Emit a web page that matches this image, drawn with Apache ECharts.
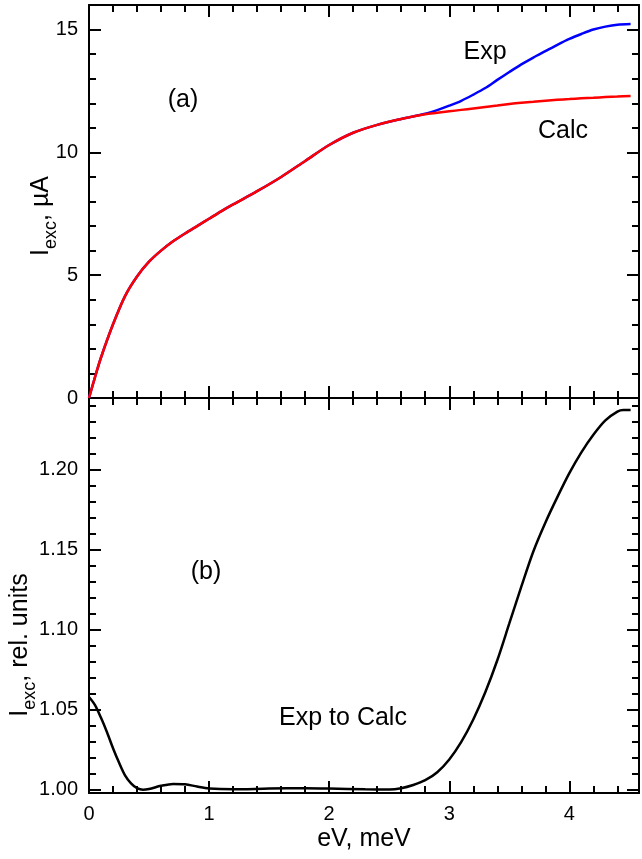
<!DOCTYPE html>
<html><head><meta charset="utf-8">
<script src="https://cdn.jsdelivr.net/npm/echarts@6/dist/echarts.min.js"></script>
<style>html,body{margin:0;padding:0;background:#fff}#c{width:642px;height:859px}</style>
</head><body><div id="c"></div>
<script>
// ---- data ----
const eV = [0, 0.05, 0.1, 0.2, 0.3, 0.4, 0.5, 0.6, 0.7, 0.8, 0.9, 1.0, 1.1, 1.2, 1.4, 1.6, 1.8, 2.0, 2.2, 2.4, 2.6, 2.8, 2.9, 3.0, 3.1, 3.2, 3.3, 3.4, 3.5, 3.6, 3.7, 3.8, 3.9, 4.0, 4.1, 4.2, 4.3, 4.4, 4.51];
const expCurrent = [0, 0.85, 1.65, 3.0, 4.15, 4.95, 5.55, 6.0, 6.38, 6.7, 7.0, 7.3, 7.6, 7.88, 8.42, 9.0, 9.65, 10.3, 10.8, 11.12, 11.36, 11.57, 11.72, 11.9, 12.1, 12.35, 12.62, 12.95, 13.27, 13.58, 13.86, 14.12, 14.38, 14.62, 14.82, 15.0, 15.12, 15.2, 15.23];
const calcCurrent = [0, 0.85, 1.65, 3.0, 4.15, 4.95, 5.55, 6.0, 6.38, 6.7, 7.0, 7.3, 7.6, 7.88, 8.42, 9.0, 9.65, 10.3, 10.8, 11.12, 11.36, 11.55, 11.61, 11.67, 11.73, 11.79, 11.85, 11.91, 11.97, 12.02, 12.06, 12.1, 12.14, 12.17, 12.2, 12.22, 12.25, 12.27, 12.3];
const ratioEV = [0, 0.05, 0.1, 0.15, 0.2, 0.25, 0.3, 0.35, 0.4, 0.45, 0.5, 0.6, 0.7, 0.8, 0.9, 1.0, 1.2, 1.5, 1.8, 2.0, 2.3, 2.5, 2.6, 2.7, 2.8, 2.9, 3.0, 3.1, 3.2, 3.3, 3.4, 3.5, 3.6, 3.7, 3.8, 3.9, 4.0, 4.1, 4.2, 4.3, 4.4, 4.45, 4.51];
const ratioValues = [1.058, 1.053, 1.045, 1.036, 1.026, 1.017, 1.009, 1.004, 1.001, 1.0, 1.0005, 1.0025, 1.0037, 1.0035, 1.002, 1.0008, 1.0003, 1.0008, 1.001, 1.0008, 1.0003, 1.0002, 1.001, 1.003, 1.006, 1.011, 1.019, 1.03, 1.044, 1.061, 1.081, 1.104, 1.127, 1.149, 1.167, 1.183, 1.198, 1.211, 1.222, 1.231, 1.2365, 1.2375, 1.2375];

const xMajorTicks = [0, 1, 2, 3, 4];
const xMinorTicks = [0.2, 0.4, 0.6, 0.8, 1.2, 1.4, 1.6, 1.8, 2.2, 2.4, 2.6, 2.8, 3.2, 3.4, 3.6, 3.8, 4.2, 4.4];
const yTopMajorTicks = [0, 5, 10, 15];
const yTopMinorTicks = [1, 2, 3, 4, 6, 7, 8, 9, 11, 12, 13, 14, 16];
const yBotMajorTicks = [1.00, 1.05, 1.10, 1.15, 1.20];
const yBotMinorTicks = [1.01, 1.02, 1.03, 1.04, 1.06, 1.07, 1.08, 1.09, 1.11, 1.12, 1.13, 1.14, 1.16, 1.17, 1.18, 1.19, 1.21, 1.22, 1.23, 1.24];

const FONT = '"Liberation Sans", Arial, sans-serif';
const X_MIN = 0, X_MAX = 4.58;
const YT_MIN = 0, YT_MAX = 16;
const YB_MIN = 0.998, YB_MAX = 1.245;

function mkAxis(opts) {
  const { grid, pos, min, max, ticks, len, line, labels, fmt, name } = opts;
  const a = {
    type: 'value', gridIndex: grid, position: pos, min: min, max: max,
    splitLine: { show: false },
    axisLine: { show: line, onZero: false, lineStyle: { color: '#000', width: 2 } },
    axisTick: { show: true, inside: true, length: len, customValues: ticks, lineStyle: { color: '#000', width: 2 } },
    axisLabel: labels ? { show: true, customValues: ticks, color: '#000', fontSize: 20, fontFamily: FONT, margin: 11, formatter: fmt } : { show: false },
    minorTick: { show: false }
  };
  if (name) {
    a.name = name; a.nameLocation = 'middle'; a.nameGap = 34;
    a.nameTextStyle = { color: '#000', fontSize: 25, fontFamily: FONT };
  }
  return a;
}

const xAxes = [
  mkAxis({ grid: 0, pos: 'bottom', min: X_MIN, max: X_MAX, ticks: xMajorTicks, len: 12, line: true }),
  mkAxis({ grid: 0, pos: 'bottom', min: X_MIN, max: X_MAX, ticks: xMinorTicks, len: 7, line: false }),
  mkAxis({ grid: 0, pos: 'top', min: X_MIN, max: X_MAX, ticks: xMajorTicks, len: 12, line: true }),
  mkAxis({ grid: 0, pos: 'top', min: X_MIN, max: X_MAX, ticks: xMinorTicks, len: 7, line: false }),
  mkAxis({ grid: 1, pos: 'bottom', min: X_MIN, max: X_MAX, ticks: xMajorTicks, len: 12, line: true, labels: true, fmt: v => String(v), name: 'eV, meV' }),
  mkAxis({ grid: 1, pos: 'bottom', min: X_MIN, max: X_MAX, ticks: xMinorTicks, len: 7, line: false }),
  mkAxis({ grid: 1, pos: 'top', min: X_MIN, max: X_MAX, ticks: xMajorTicks, len: 12, line: true }),
  mkAxis({ grid: 1, pos: 'top', min: X_MIN, max: X_MAX, ticks: xMinorTicks, len: 7, line: false })
];
const yAxes = [
  mkAxis({ grid: 0, pos: 'left', min: YT_MIN, max: YT_MAX, ticks: yTopMajorTicks, len: 12, line: true, labels: true, fmt: v => String(v) }),
  mkAxis({ grid: 0, pos: 'left', min: YT_MIN, max: YT_MAX, ticks: yTopMinorTicks, len: 7, line: false }),
  mkAxis({ grid: 0, pos: 'right', min: YT_MIN, max: YT_MAX, ticks: yTopMajorTicks, len: 12, line: true }),
  mkAxis({ grid: 0, pos: 'right', min: YT_MIN, max: YT_MAX, ticks: yTopMinorTicks, len: 7, line: false }),
  mkAxis({ grid: 1, pos: 'left', min: YB_MIN, max: YB_MAX, ticks: yBotMajorTicks, len: 12, line: true, labels: true, fmt: v => Number(v).toFixed(2) }),
  mkAxis({ grid: 1, pos: 'left', min: YB_MIN, max: YB_MAX, ticks: yBotMinorTicks, len: 7, line: false }),
  mkAxis({ grid: 1, pos: 'right', min: YB_MIN, max: YB_MAX, ticks: yBotMajorTicks, len: 12, line: true }),
  mkAxis({ grid: 1, pos: 'right', min: YB_MIN, max: YB_MAX, ticks: yBotMinorTicks, len: 7, line: false })
];

function pairs(xs, ys) { return xs.map((x, i) => [x, ys[i]]); }

const annot = (x, y, text) => ({
  type: 'text', x: x, y: y, z: 100,
  style: { text: text, fill: '#000', fontSize: 25, fontFamily: FONT,
    textAlign: 'center', textVerticalAlign: 'middle', align: 'center', verticalAlign: 'middle' }
});
const yTitle = (x, y, rest) => ({
  type: 'text', x: x, y: y, rotation: Math.PI / 2, z: 100,
  style: {
    text: '{m|I}{s|exc}{m|' + rest + '}', fill: '#000',
    textAlign: 'center', textVerticalAlign: 'middle', align: 'center', verticalAlign: 'middle',
    rich: {
      m: { fontSize: 25, fontFamily: FONT, lineHeight: 40, fill: '#000' },
      s: { fontSize: 18, fontFamily: FONT, lineHeight: 18, padding: [20, 0, 0, 0], fill: '#000' }
    }
  }
});

const chart = echarts.init(document.getElementById('c'), null, { renderer: 'canvas' });
chart.setOption({
  animation: false,
  backgroundColor: '#fff',
  grid: [
    { left: 89, right: 3, top: 5, height: 393 },
    { left: 89, right: 3, top: 398, height: 395 }
  ],
  xAxis: xAxes,
  yAxis: yAxes,
  series: [
    { name: 'Exp', type: 'line', xAxisIndex: 0, yAxisIndex: 0, data: pairs(eV, expCurrent), smooth: 0.3, showSymbol: false, lineStyle: { color: '#0000ff', width: 2.5 } },
    { name: 'Calc', type: 'line', xAxisIndex: 0, yAxisIndex: 0, data: pairs(eV, calcCurrent), smooth: 0.3, showSymbol: false, lineStyle: { color: '#ff0000', width: 2.5 } },
    { name: 'Exp to Calc', type: 'line', xAxisIndex: 4, yAxisIndex: 4, data: pairs(ratioEV, ratioValues), smooth: 0.3, showSymbol: false, lineStyle: { color: '#000', width: 2.5 } }
  ],
  graphic: [
    annot(183, 100, '(a)'),
    annot(485, 52, 'Exp'),
    annot(563, 131, 'Calc'),
    annot(206, 572, '(b)'),
    annot(343, 718, 'Exp to Calc'),
    yTitle(41, 216, ', µA'),
    yTitle(20, 645, ', rel. units')
  ]
});
</script>
</body></html>
